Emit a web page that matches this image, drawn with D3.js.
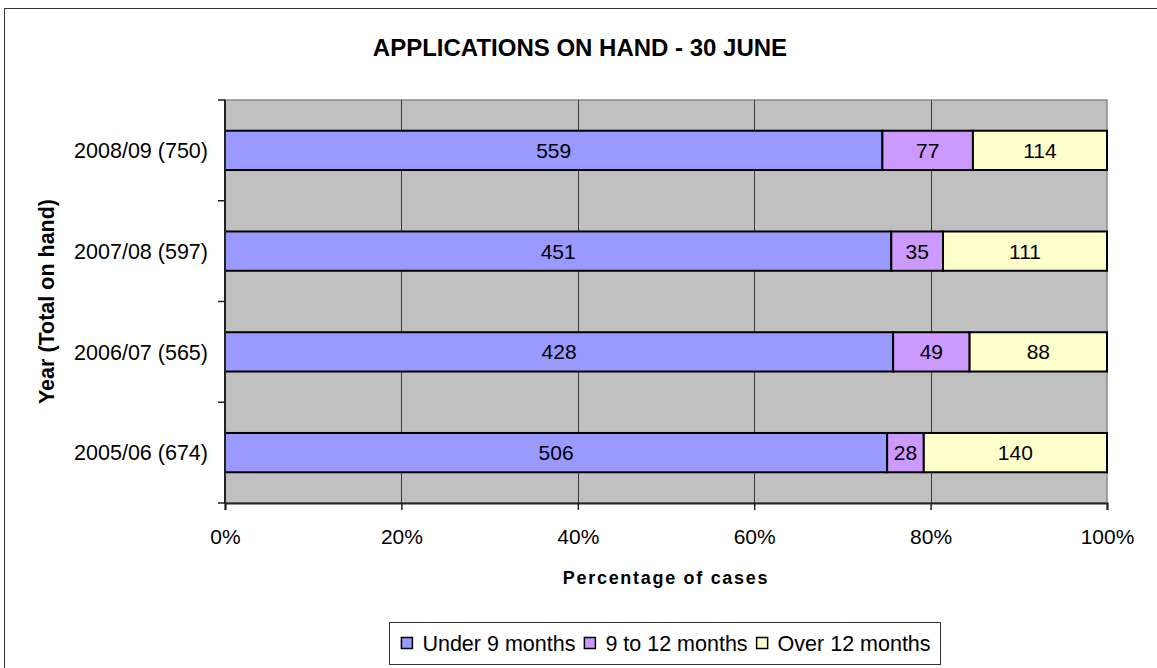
<!DOCTYPE html>
<html>
<head>
<meta charset="utf-8">
<script src="https://cdn.jsdelivr.net/npm/d3@7"></script>
<style>
  body { margin: 0; background: #fff; }
  text { font-family: "Liberation Sans", Arial, sans-serif; fill: #000; }
</style>
</head>
<body>
<svg id="chart"></svg>
<script>
const WIDTH = 1157;
const HEIGHT = 668;

const years = ["2008/09 (750)", "2007/08 (597)", "2006/07 (565)", "2005/06 (674)"];
const under9 = [559, 451, 428, 506];
const nineTo12 = [77, 35, 49, 28];
const over12 = [114, 111, 88, 140];

const seriesNames = ["Under 9 months", "9 to 12 months", "Over 12 months"];
const seriesKeys = ["under9", "nineTo12", "over12"];
const seriesColors = ["#9999FF", "#CC99FF", "#FFFFCC"];
const xTicks = [0, 0.2, 0.4, 0.6, 0.8, 1];

const PLOT = { left: 225, right: 1107, top: 100, bottom: 503 };

const rows = years.map((y, i) => ({
    year: y,
    under9: under9[i],
    nineTo12: nineTo12[i],
    over12: over12[i]
}));

const svg = d3.select("#chart")
    .attr("width", WIDTH)
    .attr("height", HEIGHT);

// outer chart border (only top/left inside the window)
svg.append("rect")
    .attr("x", 4.5).attr("y", 8.5)
    .attr("width", 1300).attr("height", 800)
    .attr("fill", "none")
    .attr("stroke", "#333");

svg.append("text")
    .attr("x", 580).attr("y", 56)
    .attr("text-anchor", "middle")
    .attr("font-weight", "bold")
    .attr("font-size", 24)
    .text("APPLICATIONS ON HAND - 30 JUNE");

const x = d3.scaleLinear()
    .domain([0, 1])
    .range([PLOT.left, PLOT.right]);

const y = d3.scaleBand()
    .domain(years)
    .range([PLOT.top, PLOT.bottom]);

// plot background
svg.append("rect")
    .attr("x", PLOT.left).attr("y", PLOT.top)
    .attr("width", PLOT.right - PLOT.left)
    .attr("height", PLOT.bottom - PLOT.top)
    .attr("fill", "#C0C0C0")
    .attr("stroke", "#8c8c8c")
    .attr("stroke-width", 1.5);

// vertical gridlines
svg.append("g")
    .selectAll("line")
    .data(xTicks.slice(1, -1))
    .enter()
    .append("line")
    .attr("x1", d => Math.round(x(d)) + 0.5)
    .attr("x2", d => Math.round(x(d)) + 0.5)
    .attr("y1", PLOT.top)
    .attr("y2", PLOT.bottom)
    .attr("stroke", "#3a3a3a")
    .attr("stroke-width", 1);

// bars
const stacked = d3.stack()
    .keys(seriesKeys)
    .offset(d3.stackOffsetExpand)(rows);

const barH = y.bandwidth() * 0.39;

const layers = svg.append("g")
    .selectAll("g")
    .data(stacked)
    .enter()
    .append("g")
    .attr("fill", (d, i) => seriesColors[i]);

layers.selectAll("rect")
    .data(d => d.map(s => ({ s, key: d.key })))
    .enter()
    .append("rect")
    .attr("x", d => x(d.s[0]))
    .attr("y", d => y(d.s.data.year) + (y.bandwidth() - barH) / 2)
    .attr("width", d => x(d.s[1]) - x(d.s[0]))
    .attr("height", barH)
    .attr("stroke", "#000")
    .attr("stroke-width", 2);

layers.selectAll("text")
    .data(d => d.map(s => ({ s, key: d.key })))
    .enter()
    .append("text")
    .attr("x", d => (x(d.s[0]) + x(d.s[1])) / 2)
    .attr("y", d => y(d.s.data.year) + y.bandwidth() / 2)
    .attr("dy", "0.36em")
    .attr("text-anchor", "middle")
    .attr("font-size", 21)
    .text(d => d.s.data[d.key]);

// y axis line + ticks at category boundaries
const yEdges = years.map(d => y(d)).concat([PLOT.bottom]);
svg.append("line")
    .attr("x1", PLOT.left).attr("x2", PLOT.left)
    .attr("y1", PLOT.top).attr("y2", PLOT.bottom)
    .attr("stroke", "#222").attr("stroke-width", 2);
svg.append("g")
    .selectAll("line")
    .data(yEdges)
    .enter()
    .append("line")
    .attr("x1", PLOT.left - 7).attr("x2", PLOT.left)
    .attr("y1", d => d).attr("y2", d => d)
    .attr("stroke", "#222").attr("stroke-width", 1.5);

svg.append("g")
    .selectAll("text")
    .data(years)
    .enter()
    .append("text")
    .attr("x", 208)
    .attr("y", d => y(d) + y.bandwidth() / 2)
    .attr("dy", "0.36em")
    .attr("text-anchor", "end")
    .attr("font-size", 21.5)
    .text(d => d);

// x axis
const xAxis = svg.append("g")
    .attr("transform", `translate(0,${PLOT.bottom})`)
    .call(d3.axisBottom(x)
        .tickValues(xTicks)
        .tickFormat(d3.format(".0%"))
        .tickSize(7)
        .tickPadding(19));
xAxis.select(".domain")
    .attr("stroke", "#222").attr("stroke-width", 2);
xAxis.selectAll(".tick line")
    .attr("stroke", "#222").attr("stroke-width", 1.5);
xAxis.selectAll(".tick text")
    .attr("font-family", "Liberation Sans, Arial, sans-serif")
    .attr("font-size", 21)
    .attr("fill", "#000");

// axis titles
svg.append("text")
    .attr("x", (PLOT.left + PLOT.right) / 2)
    .attr("y", 584)
    .attr("text-anchor", "middle")
    .attr("font-weight", "bold")
    .attr("font-size", 18)
    .attr("letter-spacing", 1.7)
    .text("Percentage of cases");

svg.append("text")
    .attr("transform", `translate(54,${(PLOT.top + PLOT.bottom) / 2}) rotate(-90)`)
    .attr("text-anchor", "middle")
    .attr("font-weight", "bold")
    .attr("font-size", 21.5)
    .text("Year (Total on hand)");

// legend
const legend = svg.append("g");
const legendBox = legend.append("rect")
    .attr("fill", "#fff")
    .attr("stroke", "#333")
    .attr("stroke-width", 1);

let cursor = 0;
const items = [];
seriesNames.forEach((name, i) => {
    const g = legend.append("g");
    g.append("rect")
        .attr("x", cursor).attr("y", -5.5)
        .attr("width", 11).attr("height", 11)
        .attr("fill", seriesColors[i])
        .attr("stroke", "#000")
        .attr("stroke-width", 1.5);
    const t = g.append("text")
        .attr("x", cursor + 21)
        .attr("dy", "0.36em")
        .attr("font-size", 21.5)
        .text(name);
    cursor += 21 + t.node().getComputedTextLength() + 9;
    items.push(g);
});
const legendW = cursor - 9;
const legendLeft = (PLOT.left + PLOT.right) / 2 - legendW / 2;
const legendMid = 643;
items.forEach(g => g.attr("transform", `translate(${legendLeft},${legendMid})`));
legendBox
    .attr("x", Math.round(legendLeft - 12) + 0.5)
    .attr("y", 622.5)
    .attr("width", Math.round(legendW + 22))
    .attr("height", 42);
</script>
</body>
</html>
